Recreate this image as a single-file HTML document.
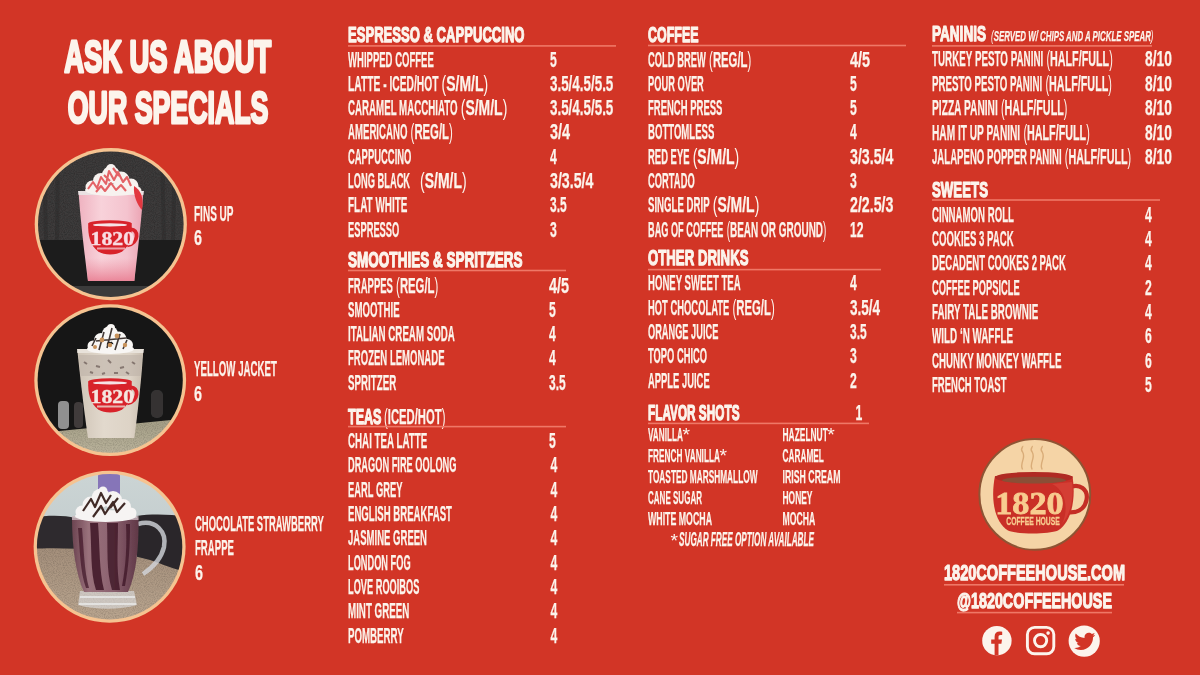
<!DOCTYPE html>
<html><head><meta charset="utf-8"><title>1820 Coffee House Menu</title>
<style>
html,body{margin:0;padding:0;background:#D23526;}
body{width:1200px;height:675px;overflow:hidden;}
svg{display:block}
text{font-family:"Liberation Sans", "DejaVu Sans", sans-serif;fill:#FCF4EC;stroke:#FCF4EC;stroke-width:0.25px;}
text.h{stroke:#FCF4EC;stroke-width:1.25px;stroke-linejoin:round}
text.t{stroke:#FCF4EC;stroke-width:3px;stroke-linejoin:round}
</style></head>
<body>
<svg width="1200" height="675" viewBox="0 0 1200 675">
<rect width="1200" height="675" fill="#D23526"/>
<defs>
  <filter id="soft" x="-5%" y="-5%" width="110%" height="110%"><feGaussianBlur stdDeviation="0.7"/></filter>
  <clipPath id="c1"><circle cx="110.8" cy="224.2" r="72.8"/></clipPath>
  <clipPath id="c2"><circle cx="110.2" cy="380.2" r="72.6"/></clipPath>
  <clipPath id="c3"><circle cx="109.6" cy="546.8" r="72.7"/></clipPath>
  <filter id="grain" x="0" y="0" width="100%" height="100%">
    <feTurbulence type="fractalNoise" baseFrequency="0.9" numOctaves="2" seed="3" result="n"/>
    <feColorMatrix in="n" type="matrix" values="0 0 0 0 0  0 0 0 0 0  0 0 0 0 0  0 0 0 0.9 -0.35"/>
    <feComposite in2="SourceGraphic" operator="in"/>
  </filter>
  <linearGradient id="cup1" x1="0" y1="0" x2="1" y2="0">
    <stop offset="0" stop-color="#EFB2C0"/><stop offset="0.35" stop-color="#F8D2DA"/><stop offset="0.75" stop-color="#F4C3CE"/><stop offset="1" stop-color="#EBA2B2"/>
  </linearGradient>
  <linearGradient id="cup2" x1="0" y1="0" x2="1" y2="0">
    <stop offset="0" stop-color="#CFC4B6"/><stop offset="0.4" stop-color="#E2D9CD"/><stop offset="0.8" stop-color="#DDD3C6"/><stop offset="1" stop-color="#C9BDAF"/>
  </linearGradient>
  <linearGradient id="mug" x1="0" y1="0" x2="1" y2="0">
    <stop offset="0" stop-color="#6C4451"/><stop offset="0.25" stop-color="#9A727C"/><stop offset="0.6" stop-color="#8C6270"/><stop offset="1" stop-color="#603847"/>
  </linearGradient>
  <linearGradient id="wall" x1="0" y1="0" x2="0" y2="1">
    <stop offset="0" stop-color="#CCD5D5"/><stop offset="1" stop-color="#B9C3C5"/>
  </linearGradient>
  <linearGradient id="gran" x1="0" y1="0" x2="0" y2="1">
    <stop offset="0" stop-color="#A48F7B"/><stop offset="1" stop-color="#BBA791"/>
  </linearGradient>
  <linearGradient id="gran2" x1="0" y1="0" x2="0" y2="1">
    <stop offset="0" stop-color="#A39D85"/><stop offset="1" stop-color="#BDB69F"/>
  </linearGradient>
  <radialGradient id="cream" cx="0.45" cy="0.45" r="0.6">
    <stop offset="0" stop-color="#FFFFFF"/><stop offset="1" stop-color="#ECE6E2"/>
  </radialGradient>
  
</defs>
<!-- photo 1 : Fins Up -->
<circle cx="110.8" cy="224.2" r="76.1" fill="#F5C391"/>
<g clip-path="url(#c1)"><g filter="url(#soft)">
  <rect x="30" y="145" width="160" height="96" fill="#3C3A3A"/>
  <rect x="30" y="145" width="160" height="96" fill="#000" filter="url(#grain)" opacity="0.5"/>
  <path d="M44 150 L46 240 M58 150 L57 240 M162 150 L164 240 M175 150 L173 240" stroke="#2C2B2B" stroke-width="4" opacity="0.55"/>
  <rect x="30" y="240" width="160" height="47" fill="#1F1E1E"/>
  <rect x="30" y="286" width="160" height="20" fill="#3B3A3A"/>
  <path d="M78.6 193 L143.3 193 C141 225 137 258 134.3 281 L88 281 C85 258 81 225 78.6 193 Z" fill="url(#cup1)"/>
  <linearGradient id="pinkbot" x1="0" y1="0" x2="0" y2="1"><stop offset="0" stop-color="#EC8E9F" stop-opacity="0"/><stop offset="1" stop-color="#E97F93" stop-opacity="0.9"/></linearGradient>
  <path d="M85.8 258 L136.4 258 L134.3 281 L88 281 Z" fill="url(#pinkbot)"/>
  <path d="M78 191 L144 191 L143.3 195 L78.6 195 Z" fill="#E9E1E2"/>
  <g fill="#F7F2EF">
    <ellipse cx="112.5" cy="190" rx="27.5" ry="6"/>
    <circle cx="92" cy="187" r="6.5"/><circle cx="101" cy="181" r="8"/><circle cx="111" cy="175" r="9"/><circle cx="111" cy="169" r="5"/><circle cx="121" cy="180" r="8.5"/><circle cx="131" cy="186" r="7.5"/><circle cx="137" cy="191" r="4.5"/>
  </g>
  <path d="M88 189 L93 182 L97 188 L101 177 L106 184 L109 171 L114 180 L118 172 L123 182 L127 177 L131 186 M96 192 L101 186 L105 191 L111 183 L116 190 L121 185 L126 191 M104 175 L110 181 M113 168 L119 176" stroke="#E04A4E" stroke-width="2.1" fill="none" opacity="0.85" stroke-linejoin="round"/>
  <path d="M134 186 C141 190 144 198 142 210 C138 206 133 196 134 186 Z" fill="#E23840"/>
  <g transform="translate(111.2,237.5)">
    <path d="M-23 -14 C-23.5 -2 -21 8 -13 14 C-7 18 5 18 11 14 C19 8 21 -2 20.5 -14 Z" fill="#D8242C"/>
    <path d="M19 -8 C28 -9 28 6 16 8" stroke="#D8242C" stroke-width="3.8" fill="none"/>
    <ellipse cx="-1.2" cy="-14" rx="21.8" ry="3.3" fill="#D8242C"/>
    <ellipse cx="-1.2" cy="-12.6" rx="17" ry="1.7" fill="#F6E3E6"/>
  </g>
  <text x="90.5" y="245.3" textLength="43.5" lengthAdjust="spacingAndGlyphs" style="font-family:'Liberation Serif',serif;font-weight:700;font-size:19px;fill:#F9DDE3;stroke:#F9DDE3;stroke-width:0.4px">1820</text>
  <rect x="97" y="247.5" width="28" height="2" fill="#F3C0C8" opacity="0.8"/>
</g></g>
<!-- photo 2 : Yellow Jacket -->
<circle cx="110.2" cy="380.2" r="75.9" fill="#F5C391"/>
<g clip-path="url(#c2)"><g filter="url(#soft)">
  <rect x="30" y="300" width="160" height="160" fill="#141414"/>
  <rect x="58" y="401" width="11" height="28" rx="4" fill="#C4C4C4" opacity="0.7"/>
  <rect x="74" y="402" width="9" height="26" rx="4" fill="#5E5555" opacity="0.6"/>
  <rect x="151" y="390" width="12" height="28" rx="5" fill="#4A4747" opacity="0.6"/>
  <path d="M30 434 L190 418 L190 460 L30 460 Z" fill="url(#gran2)"/>
  <path d="M30 434 L190 418 L190 460 L30 460 Z" fill="#000" filter="url(#grain)" opacity="0.35"/>
  <path d="M77.4 351 L143.3 351 C141 385 137 418 134.3 438 L88 438 C85 418 81 385 77.4 351 Z" fill="url(#cup2)"/>
  <path d="M78.5 355 L142.2 355 L140.6 376 L80.5 376 Z" fill="#BEB2A8" opacity="0.6"/>
  <path d="M84 362 l3 2 M96 366 l4 1 M108 360 l3 3 M120 368 l4 -1 M132 362 l3 2 M90 372 l3 1 M114 373 l4 0 M126 372 l3 2 M102 374 l3 -1" stroke="#6A5A55" stroke-width="2" opacity="0.7"/>
  <path d="M77 349 L144 349 L143.3 353 L77.4 353 Z" fill="#E8E2DA"/>
  <g fill="#F8F6F4">
    <ellipse cx="110.5" cy="349" rx="23.5" ry="5"/>
    <circle cx="93" cy="346" r="5.5"/><circle cx="101" cy="340" r="7"/><circle cx="110" cy="334" r="8"/><circle cx="111" cy="328" r="4"/><circle cx="119" cy="339" r="7.5"/><circle cx="127" cy="345" r="6"/>
  </g>
  <path d="M92 346 L96 338 M99 350 L104 332 M107 348 L112 328 M115 350 L120 334 M123 349 L127 340 M96 341 L126 338" stroke="#2E2420" stroke-width="1.6" opacity="0.9" fill="none"/>
  <circle cx="102" cy="340" r="2.4" fill="#C8925A"/><circle cx="117" cy="336" r="2.4" fill="#C8925A"/><circle cx="110" cy="345" r="2.2" fill="#C8925A"/><circle cx="125" cy="345" r="2.2" fill="#C8925A"/><circle cx="95" cy="347" r="2" fill="#C8925A"/>
  <g transform="translate(111.2,395.5)">
    <path d="M-23 -14 C-23.5 -2 -21 8 -13 14 C-7 18 5 18 11 14 C19 8 21 -2 20.5 -14 Z" fill="#D8242C"/>
    <path d="M19 -8 C28 -9 28 6 16 8" stroke="#D8242C" stroke-width="3.8" fill="none"/>
    <ellipse cx="-1.2" cy="-14" rx="21.8" ry="3.3" fill="#D8242C"/>
    <ellipse cx="-1.2" cy="-12.6" rx="17" ry="1.7" fill="#F6E3E6"/>
  </g>
  <text x="90.5" y="403.3" textLength="43.5" lengthAdjust="spacingAndGlyphs" style="font-family:'Liberation Serif',serif;font-weight:700;font-size:19px;fill:#F5E6E0;stroke:#F5E6E0;stroke-width:0.4px">1820</text>
  <rect x="97" y="405.5" width="28" height="2" fill="#EBD8D0" opacity="0.8"/>
</g></g>
<!-- photo 3 : Chocolate Strawberry Frappe -->
<circle cx="109.6" cy="546.8" r="76.0" fill="#F5C391"/>
<g clip-path="url(#c3)"><g filter="url(#soft)">
  <rect x="30" y="468" width="160" height="160" fill="url(#wall)"/>
  <rect x="98" y="474" width="22" height="23" rx="2" fill="#8675B8"/>
  <path d="M30 518 C45 515 65 515 75 518 L75 551 L30 552 Z" fill="#2D2B2D"/>
  <path d="M137 516 C150 514 170 514 186 517 L186 576 L137 570 Z" fill="#2A282A"/>
  <path d="M30 549 C60 547 110 549 150 560 C165 565 175 570 188 572 L188 628 L30 628 Z" fill="url(#gran)"/>
  <path d="M30 549 C60 547 110 549 150 560 C165 565 175 570 188 572 L188 628 L30 628 Z" fill="#000" filter="url(#grain)" opacity="0.35"/>
  <path d="M138 524 C156 519 167 532 164 547 C161 560 152 568 143 574" stroke="#D3D6DC" stroke-width="4.5" fill="none" opacity="0.8"/>
  <path d="M80 591 L134 591 L137 605 C120 610 95 610 78 605 Z" fill="#E4E7EC" opacity="0.55"/>
  <path d="M80 597 L135 597 M79 604 L136 604" stroke="#F4F6F8" stroke-width="1.4" opacity="0.8"/>
  <path d="M72 518 L138.5 518 C139 548 136 575 128 592 L84 592 C76 575 72 548 72 518 Z" fill="url(#mug)"/>
  <path d="M90 523 C92 548 90 572 96 590 L104 590 C99 570 100 548 98 523 Z" fill="#3E1626" opacity="0.85"/>
  <path d="M107 523 C108 550 106 570 112 590 L120 590 C116 568 118 548 118 523 Z" fill="#3E1626" opacity="0.8"/>
  <path d="M78 528 C80 550 80 572 86 588 L89 588 C84 570 84 550 82 528 Z" fill="#3E1626" opacity="0.7"/>
  <path d="M126 524 C127 545 126 565 122 586 L125 586 C129 565 130 545 130 524 Z" fill="#3E1626" opacity="0.75"/>
  <path d="M72 516 L138.5 516 L138.5 520 L72 520 Z" fill="#C9B8BE" opacity="0.8"/>
  <g fill="#F6F4F3">
    <ellipse cx="105.5" cy="516" rx="30.5" ry="6"/>
    <circle cx="82" cy="512" r="6.5"/><circle cx="91" cy="505" r="8.5"/><circle cx="101" cy="498" r="9.5"/><circle cx="103" cy="491" r="4.5"/><circle cx="113" cy="500" r="9"/><circle cx="123" cy="507" r="8"/><circle cx="131" cy="513" r="5.5"/>
  </g>
  <path d="M83 511 L91 499 L95 507 L101 493 L106 503 L111 495 M93 517 L101 506 L105 514 L113 502 L117 512 L125 503 M110 508 L118 498" stroke="#2E1612" stroke-width="2.2" fill="none" opacity="0.9" stroke-linejoin="round"/>
</g></g>

<g>
  <circle cx="1034.8" cy="494.4" r="55.4" fill="#F5D4A6" stroke="#8E5434" stroke-width="2"/>
  <path d="M1022.6 469.5 C1019 463 1026.5 458.5 1022.6 452 C1019.6 448.5 1023.5 447 1022.6 446" stroke="#D9AC78" stroke-width="1.4" fill="none"/>
  <path d="M1032.2 469.5 C1028.6 463 1036.1 458.5 1032.2 452 C1029.2 448.5 1033.1 447 1032.2 446" stroke="#D9AC78" stroke-width="1.4" fill="none"/>
  <path d="M1042.2 469.5 C1038.6 463 1046.1 458.5 1042.2 452 C1039.2 448.5 1043.1 447 1042.2 446" stroke="#D9AC78" stroke-width="1.4" fill="none"/>
  <path d="M1068 488 C1080 482 1088.5 490 1086.5 500 C1084.5 510 1076 513.5 1066 512" stroke="#C42D25" stroke-width="4.2" fill="none"/>
  <path d="M995 476 C990.5 498 994 522 1008 530.5 C1018 534.5 1048 534.5 1058 530.5 C1072 522 1076 498 1072.5 476 Z" fill="#C92F27"/>
  <path d="M1052 484 C1066 490 1069 510 1062 524 C1071 514 1074 496 1072 482 Z" fill="#D8443A" opacity="0.7"/>
  <ellipse cx="1033.8" cy="477.5" rx="38.8" ry="5.6" fill="#B02A23"/>
  <ellipse cx="1034" cy="480.2" rx="32" ry="3.4" fill="#8A4E36"/>
  <text x="995.2" y="514" textLength="68.5" lengthAdjust="spacingAndGlyphs" style="font-family:'Liberation Serif',serif;font-weight:700;font-size:32.5px;fill:#F8CC90;stroke:#F8CC90;stroke-width:0.8px">1820</text>
  <text x="1006.3" y="525.3" textLength="53.5" lengthAdjust="spacingAndGlyphs" style="font-family:'Liberation Sans',sans-serif;font-weight:700;font-size:11.8px;fill:#F8CC90;stroke:#F8CC90;stroke-width:0.3px">COFFEE HOUSE</text>
</g>

<g>
  <circle cx="996.9" cy="640.7" r="14.7" fill="#FCF4EC"/>
  <path d="M994.6 655.4 L994.6 643.8 L991.2 643.8 L991.2 639.6 L994.6 639.6 L994.6 636.6 C994.6 633.2 996.6 631.6 999.6 631.6 C1000.9 631.6 1002.2 631.8 1002.2 631.8 L1002.2 635.1 L1000.6 635.1 C999 635.1 998.5 636 998.5 637 L998.5 639.6 L1002 639.6 L1001.4 643.8 L998.5 643.8 L998.5 655.4 Z" fill="#D23526"/>
  <rect x="1027.4" y="627.4" width="26.4" height="26.4" rx="7.2" fill="none" stroke="#FCF4EC" stroke-width="2.9"/>
  <circle cx="1040.6" cy="640.6" r="6.1" fill="none" stroke="#FCF4EC" stroke-width="2.9"/>
  <circle cx="1048.1" cy="633.1" r="1.8" fill="#FCF4EC"/>
  <circle cx="1084.2" cy="641.1" r="15.6" fill="#FCF4EC"/>
  <g transform="translate(0.2,1.2)">
  <path d="M1095 633.5 C1094.2 633.9 1093.4 634.1 1092.5 634.2 C1093.4 633.7 1094.1 632.8 1094.4 631.8 C1093.6 632.3 1092.6 632.6 1091.7 632.8 C1090.9 632 1089.8 631.5 1088.6 631.5 C1086.2 631.5 1084.3 633.4 1084.3 635.8 C1084.3 636.1 1084.3 636.5 1084.4 636.8 C1080.8 636.6 1077.7 634.9 1075.6 632.3 C1075.2 632.9 1075 633.7 1075 634.5 C1075 636 1075.8 637.3 1076.9 638.1 C1076.2 638.1 1075.6 637.9 1075 637.6 C1075 639.7 1076.5 641.4 1078.5 641.8 C1077.9 642 1077.2 642 1076.6 641.9 C1077.1 643.6 1078.7 644.9 1080.6 644.9 C1078.7 646.3 1076.4 647 1074 646.8 C1075.9 648.1 1078.2 648.8 1080.6 648.8 C1088.5 648.8 1092.8 642.3 1092.8 636.6 L1092.8 636.1 C1093.7 635.4 1094.4 634.5 1095 633.5 Z" fill="#D23526"/>
  </g>
</g>

<text x="348.0" y="42.3" textLength="176.5" lengthAdjust="spacingAndGlyphs" style="font-size:21.80px;font-weight:700" class="h">ESPRESSO &amp; CAPPUCCINO</text>
<rect x="348" y="45.10" width="268" height="1.6" fill="#EF7867"/>
<text x="348.0" y="66.5" textLength="85.8" lengthAdjust="spacingAndGlyphs" style="font-size:21.80px;font-weight:700">WHIPPED COFFEE</text>
<text x="550.0" y="66.5" textLength="6.8" lengthAdjust="spacingAndGlyphs" style="font-size:21.80px;font-weight:700">5</text>
<text x="348.0" y="90.8" textLength="90.4" lengthAdjust="spacingAndGlyphs" style="font-size:21.80px;font-weight:700">LATTE - ICED/HOT</text>
<text x="441.6" y="90.8" textLength="46.5" lengthAdjust="spacingAndGlyphs" style="font-size:21.80px;font-weight:700"><tspan style="font-weight:400;stroke:none">(</tspan>S/M/L<tspan style="font-weight:400;stroke:none">)</tspan></text>
<text x="550.0" y="90.8" textLength="63.3" lengthAdjust="spacingAndGlyphs" style="font-size:21.80px;font-weight:700">3.5/4.5/5.5</text>
<text x="348.0" y="115.1" textLength="109.6" lengthAdjust="spacingAndGlyphs" style="font-size:21.80px;font-weight:700">CARAMEL MACCHIATO</text>
<text x="460.8" y="115.1" textLength="46.5" lengthAdjust="spacingAndGlyphs" style="font-size:21.80px;font-weight:700"><tspan style="font-weight:400;stroke:none">(</tspan>S/M/L<tspan style="font-weight:400;stroke:none">)</tspan></text>
<text x="550.0" y="115.1" textLength="63.3" lengthAdjust="spacingAndGlyphs" style="font-size:21.80px;font-weight:700">3.5/4.5/5.5</text>
<text x="348.0" y="139.4" textLength="59.4" lengthAdjust="spacingAndGlyphs" style="font-size:21.80px;font-weight:700">AMERICANO</text>
<text x="410.6" y="139.4" textLength="42.2" lengthAdjust="spacingAndGlyphs" style="font-size:21.80px;font-weight:700"><tspan style="font-weight:400;stroke:none">(</tspan>REG/L<tspan style="font-weight:400;stroke:none">)</tspan></text>
<text x="550.0" y="139.4" textLength="20.1" lengthAdjust="spacingAndGlyphs" style="font-size:21.80px;font-weight:700">3/4</text>
<text x="348.0" y="163.7" textLength="63.4" lengthAdjust="spacingAndGlyphs" style="font-size:21.80px;font-weight:700">CAPPUCCINO</text>
<text x="550.0" y="163.7" textLength="6.8" lengthAdjust="spacingAndGlyphs" style="font-size:21.80px;font-weight:700">4</text>
<text x="348.0" y="188.0" textLength="62.1" lengthAdjust="spacingAndGlyphs" style="font-size:21.80px;font-weight:700">LONG BLACK</text>
<text x="420.1" y="188.0" textLength="46.5" lengthAdjust="spacingAndGlyphs" style="font-size:21.80px;font-weight:700"><tspan style="font-weight:400;stroke:none">(</tspan>S/M/L<tspan style="font-weight:400;stroke:none">)</tspan></text>
<text x="550.0" y="188.0" textLength="43.4" lengthAdjust="spacingAndGlyphs" style="font-size:21.80px;font-weight:700">3/3.5/4</text>
<text x="348.0" y="212.3" textLength="59.4" lengthAdjust="spacingAndGlyphs" style="font-size:21.80px;font-weight:700">FLAT WHITE</text>
<text x="550.0" y="212.3" textLength="16.7" lengthAdjust="spacingAndGlyphs" style="font-size:21.80px;font-weight:700">3.5</text>
<text x="348.0" y="236.6" textLength="51.3" lengthAdjust="spacingAndGlyphs" style="font-size:21.80px;font-weight:700">ESPRESSO</text>
<text x="550.0" y="236.6" textLength="6.8" lengthAdjust="spacingAndGlyphs" style="font-size:21.80px;font-weight:700">3</text>
<text x="348.0" y="267.0" textLength="174.5" lengthAdjust="spacingAndGlyphs" style="font-size:21.80px;font-weight:700" class="h">SMOOTHIES &amp; SPRITZERS</text>
<rect x="348" y="269.70" width="218" height="1.6" fill="#EF7867"/>
<text x="348.0" y="292.5" textLength="44.9" lengthAdjust="spacingAndGlyphs" style="font-size:21.80px;font-weight:700">FRAPPES</text>
<text x="396.1" y="292.5" textLength="42.2" lengthAdjust="spacingAndGlyphs" style="font-size:21.80px;font-weight:700"><tspan style="font-weight:400;stroke:none">(</tspan>REG/L<tspan style="font-weight:400;stroke:none">)</tspan></text>
<text x="549.0" y="292.5" textLength="20.1" lengthAdjust="spacingAndGlyphs" style="font-size:21.80px;font-weight:700">4/5</text>
<text x="348.0" y="316.8" textLength="51.6" lengthAdjust="spacingAndGlyphs" style="font-size:21.80px;font-weight:700">SMOOTHIE</text>
<text x="549.0" y="316.8" textLength="6.8" lengthAdjust="spacingAndGlyphs" style="font-size:21.80px;font-weight:700">5</text>
<text x="348.0" y="341.1" textLength="106.8" lengthAdjust="spacingAndGlyphs" style="font-size:21.80px;font-weight:700">ITALIAN CREAM SODA</text>
<text x="549.0" y="341.1" textLength="6.8" lengthAdjust="spacingAndGlyphs" style="font-size:21.80px;font-weight:700">4</text>
<text x="348.0" y="365.4" textLength="96.5" lengthAdjust="spacingAndGlyphs" style="font-size:21.80px;font-weight:700">FROZEN LEMONADE</text>
<text x="549.0" y="365.4" textLength="6.8" lengthAdjust="spacingAndGlyphs" style="font-size:21.80px;font-weight:700">4</text>
<text x="348.0" y="389.7" textLength="48.2" lengthAdjust="spacingAndGlyphs" style="font-size:21.80px;font-weight:700">SPRITZER</text>
<text x="549.0" y="389.7" textLength="16.7" lengthAdjust="spacingAndGlyphs" style="font-size:21.80px;font-weight:700">3.5</text>
<text x="348.0" y="423.9" textLength="33.5" lengthAdjust="spacingAndGlyphs" style="font-size:21.80px;font-weight:700" class="h">TEAS</text>
<text x="384.0" y="423.9" textLength="61.4" lengthAdjust="spacingAndGlyphs" style="font-size:21.80px;font-weight:700"><tspan style="font-weight:400;stroke:none">(</tspan>ICED/HOT<tspan style="font-weight:400;stroke:none">)</tspan></text>
<rect x="348" y="425.80" width="218" height="1.6" fill="#EF7867"/>
<text x="348.0" y="447.9" textLength="79.2" lengthAdjust="spacingAndGlyphs" style="font-size:21.80px;font-weight:700">CHAI TEA LATTE</text>
<text x="549.0" y="447.9" textLength="6.8" lengthAdjust="spacingAndGlyphs" style="font-size:21.80px;font-weight:700">5</text>
<text x="348.0" y="472.2" textLength="108.5" lengthAdjust="spacingAndGlyphs" style="font-size:21.80px;font-weight:700">DRAGON FIRE OOLONG</text>
<text x="550.5" y="472.2" textLength="6.8" lengthAdjust="spacingAndGlyphs" style="font-size:21.80px;font-weight:700">4</text>
<text x="348.0" y="496.6" textLength="54.5" lengthAdjust="spacingAndGlyphs" style="font-size:21.80px;font-weight:700">EARL GREY</text>
<text x="550.5" y="496.6" textLength="6.8" lengthAdjust="spacingAndGlyphs" style="font-size:21.80px;font-weight:700">4</text>
<text x="348.0" y="520.9" textLength="103.9" lengthAdjust="spacingAndGlyphs" style="font-size:21.80px;font-weight:700">ENGLISH BREAKFAST</text>
<text x="550.5" y="520.9" textLength="6.8" lengthAdjust="spacingAndGlyphs" style="font-size:21.80px;font-weight:700">4</text>
<text x="348.0" y="545.2" textLength="79.0" lengthAdjust="spacingAndGlyphs" style="font-size:21.80px;font-weight:700">JASMINE GREEN</text>
<text x="550.5" y="545.2" textLength="6.8" lengthAdjust="spacingAndGlyphs" style="font-size:21.80px;font-weight:700">4</text>
<text x="348.0" y="569.5" textLength="62.6" lengthAdjust="spacingAndGlyphs" style="font-size:21.80px;font-weight:700">LONDON FOG</text>
<text x="550.5" y="569.5" textLength="6.8" lengthAdjust="spacingAndGlyphs" style="font-size:21.80px;font-weight:700">4</text>
<text x="348.0" y="593.9" textLength="71.4" lengthAdjust="spacingAndGlyphs" style="font-size:21.80px;font-weight:700">LOVE ROOIBOS</text>
<text x="550.5" y="593.9" textLength="6.8" lengthAdjust="spacingAndGlyphs" style="font-size:21.80px;font-weight:700">4</text>
<text x="348.0" y="618.2" textLength="61.4" lengthAdjust="spacingAndGlyphs" style="font-size:21.80px;font-weight:700">MINT GREEN</text>
<text x="550.5" y="618.2" textLength="6.8" lengthAdjust="spacingAndGlyphs" style="font-size:21.80px;font-weight:700">4</text>
<text x="348.0" y="642.5" textLength="55.7" lengthAdjust="spacingAndGlyphs" style="font-size:21.80px;font-weight:700">POMBERRY</text>
<text x="550.5" y="642.5" textLength="6.8" lengthAdjust="spacingAndGlyphs" style="font-size:21.80px;font-weight:700">4</text>
<text x="648.0" y="41.5" textLength="50.5" lengthAdjust="spacingAndGlyphs" style="font-size:21.80px;font-weight:700" class="h">COFFEE</text>
<rect x="648" y="44.70" width="258" height="1.6" fill="#EF7867"/>
<text x="648.0" y="66.5" textLength="57.9" lengthAdjust="spacingAndGlyphs" style="font-size:21.80px;font-weight:700">COLD BREW</text>
<text x="709.1" y="66.5" textLength="42.2" lengthAdjust="spacingAndGlyphs" style="font-size:21.80px;font-weight:700"><tspan style="font-weight:400;stroke:none">(</tspan>REG/L<tspan style="font-weight:400;stroke:none">)</tspan></text>
<text x="850.0" y="66.5" textLength="20.1" lengthAdjust="spacingAndGlyphs" style="font-size:21.80px;font-weight:700">4/5</text>
<text x="648.0" y="90.8" textLength="55.8" lengthAdjust="spacingAndGlyphs" style="font-size:21.80px;font-weight:700">POUR OVER</text>
<text x="850.0" y="90.8" textLength="6.8" lengthAdjust="spacingAndGlyphs" style="font-size:21.80px;font-weight:700">5</text>
<text x="648.0" y="115.1" textLength="74.4" lengthAdjust="spacingAndGlyphs" style="font-size:21.80px;font-weight:700">FRENCH PRESS</text>
<text x="850.0" y="115.1" textLength="6.8" lengthAdjust="spacingAndGlyphs" style="font-size:21.80px;font-weight:700">5</text>
<text x="648.0" y="139.4" textLength="66.4" lengthAdjust="spacingAndGlyphs" style="font-size:21.80px;font-weight:700">BOTTOMLESS</text>
<text x="850.0" y="139.4" textLength="6.8" lengthAdjust="spacingAndGlyphs" style="font-size:21.80px;font-weight:700">4</text>
<text x="648.0" y="163.7" textLength="41.5" lengthAdjust="spacingAndGlyphs" style="font-size:21.80px;font-weight:700">RED EYE</text>
<text x="692.7" y="163.7" textLength="46.5" lengthAdjust="spacingAndGlyphs" style="font-size:21.80px;font-weight:700"><tspan style="font-weight:400;stroke:none">(</tspan>S/M/L<tspan style="font-weight:400;stroke:none">)</tspan></text>
<text x="850.0" y="163.7" textLength="43.4" lengthAdjust="spacingAndGlyphs" style="font-size:21.80px;font-weight:700">3/3.5/4</text>
<text x="648.0" y="188.0" textLength="46.7" lengthAdjust="spacingAndGlyphs" style="font-size:21.80px;font-weight:700">CORTADO</text>
<text x="850.0" y="188.0" textLength="6.8" lengthAdjust="spacingAndGlyphs" style="font-size:21.80px;font-weight:700">3</text>
<text x="648.0" y="212.3" textLength="61.6" lengthAdjust="spacingAndGlyphs" style="font-size:21.80px;font-weight:700">SINGLE DRIP</text>
<text x="712.8" y="212.3" textLength="46.5" lengthAdjust="spacingAndGlyphs" style="font-size:21.80px;font-weight:700"><tspan style="font-weight:400;stroke:none">(</tspan>S/M/L<tspan style="font-weight:400;stroke:none">)</tspan></text>
<text x="850.0" y="212.3" textLength="43.4" lengthAdjust="spacingAndGlyphs" style="font-size:21.80px;font-weight:700">2/2.5/3</text>
<text x="648.0" y="236.6" textLength="75.5" lengthAdjust="spacingAndGlyphs" style="font-size:21.80px;font-weight:700">BAG OF COFFEE</text>
<text x="726.7" y="236.6" textLength="99.7" lengthAdjust="spacingAndGlyphs" style="font-size:21.80px;font-weight:700"><tspan style="font-weight:400;stroke:none">(</tspan>BEAN OR GROUND<tspan style="font-weight:400;stroke:none">)</tspan></text>
<text x="850.0" y="236.6" textLength="13.5" lengthAdjust="spacingAndGlyphs" style="font-size:21.80px;font-weight:700">12</text>
<text x="648.0" y="265.4" textLength="100.5" lengthAdjust="spacingAndGlyphs" style="font-size:21.80px;font-weight:700" class="h">OTHER DRINKS</text>
<rect x="648" y="268.80" width="233" height="1.6" fill="#EF7867"/>
<text x="648.0" y="290.3" textLength="92.6" lengthAdjust="spacingAndGlyphs" style="font-size:21.80px;font-weight:700">HONEY SWEET TEA</text>
<text x="850.0" y="290.3" textLength="6.8" lengthAdjust="spacingAndGlyphs" style="font-size:21.80px;font-weight:700">4</text>
<text x="648.0" y="314.6" textLength="81.3" lengthAdjust="spacingAndGlyphs" style="font-size:21.80px;font-weight:700">HOT CHOCOLATE</text>
<text x="732.5" y="314.6" textLength="42.2" lengthAdjust="spacingAndGlyphs" style="font-size:21.80px;font-weight:700"><tspan style="font-weight:400;stroke:none">(</tspan>REG/L<tspan style="font-weight:400;stroke:none">)</tspan></text>
<text x="850.0" y="314.6" textLength="30.1" lengthAdjust="spacingAndGlyphs" style="font-size:21.80px;font-weight:700">3.5/4</text>
<text x="648.0" y="338.9" textLength="70.3" lengthAdjust="spacingAndGlyphs" style="font-size:21.80px;font-weight:700">ORANGE JUICE</text>
<text x="850.0" y="338.9" textLength="16.7" lengthAdjust="spacingAndGlyphs" style="font-size:21.80px;font-weight:700">3.5</text>
<text x="648.0" y="363.2" textLength="59.0" lengthAdjust="spacingAndGlyphs" style="font-size:21.80px;font-weight:700">TOPO CHICO</text>
<text x="850.0" y="363.2" textLength="6.8" lengthAdjust="spacingAndGlyphs" style="font-size:21.80px;font-weight:700">3</text>
<text x="648.0" y="387.5" textLength="61.7" lengthAdjust="spacingAndGlyphs" style="font-size:21.80px;font-weight:700">APPLE JUICE</text>
<text x="850.0" y="387.5" textLength="6.8" lengthAdjust="spacingAndGlyphs" style="font-size:21.80px;font-weight:700">2</text>
<text x="648.0" y="419.9" textLength="91.5" lengthAdjust="spacingAndGlyphs" style="font-size:21.80px;font-weight:700" class="h">FLAVOR SHOTS</text>
<text x="855.6" y="419.9" textLength="6.8" lengthAdjust="spacingAndGlyphs" style="font-size:21.80px;font-weight:700">1</text>
<rect x="648" y="422.60" width="221" height="1.6" fill="#EF7867"/>
<text x="648.0" y="440.5" textLength="35.0" lengthAdjust="spacingAndGlyphs" style="font-size:18.90px;font-weight:700">VANILLA</text>
<text x="682.5" y="441.3" textLength="7.5" lengthAdjust="spacingAndGlyphs" style="font-size:19px;font-weight:400;stroke:none">*</text>
<text x="782.5" y="440.5" textLength="45.3" lengthAdjust="spacingAndGlyphs" style="font-size:18.90px;font-weight:700">HAZELNUT</text>
<text x="827.3" y="441.3" textLength="7.5" lengthAdjust="spacingAndGlyphs" style="font-size:19px;font-weight:400;stroke:none">*</text>
<text x="648.0" y="461.6" textLength="72.0" lengthAdjust="spacingAndGlyphs" style="font-size:18.90px;font-weight:700">FRENCH VANILLA</text>
<text x="719.5" y="462.4" textLength="7.5" lengthAdjust="spacingAndGlyphs" style="font-size:19px;font-weight:400;stroke:none">*</text>
<text x="782.5" y="461.6" textLength="41.4" lengthAdjust="spacingAndGlyphs" style="font-size:18.90px;font-weight:700">CARAMEL</text>
<text x="648.0" y="482.6" textLength="109.5" lengthAdjust="spacingAndGlyphs" style="font-size:18.90px;font-weight:700">TOASTED MARSHMALLOW</text>
<text x="782.5" y="482.6" textLength="58.0" lengthAdjust="spacingAndGlyphs" style="font-size:18.90px;font-weight:700">IRISH CREAM</text>
<text x="648.0" y="503.7" textLength="54.0" lengthAdjust="spacingAndGlyphs" style="font-size:18.90px;font-weight:700">CANE SUGAR</text>
<text x="782.5" y="503.7" textLength="30.0" lengthAdjust="spacingAndGlyphs" style="font-size:18.90px;font-weight:700">HONEY</text>
<text x="648.0" y="524.8" textLength="64.0" lengthAdjust="spacingAndGlyphs" style="font-size:18.90px;font-weight:700">WHITE MOCHA</text>
<text x="782.5" y="524.8" textLength="32.7" lengthAdjust="spacingAndGlyphs" style="font-size:18.90px;font-weight:700">MOCHA</text>
<text x="670.6" y="546.8" textLength="7.5" lengthAdjust="spacingAndGlyphs" style="font-size:19px;font-weight:400;stroke:none">*</text>
<text x="679.0" y="545.9" textLength="135.0" lengthAdjust="spacingAndGlyphs" style="font-size:19.62px;font-weight:700;font-style:italic">SUGAR FREE OPTION AVAILABLE</text>
<text x="932.0" y="41.3" textLength="54.0" lengthAdjust="spacingAndGlyphs" style="font-size:21.80px;font-weight:700" class="h">PANINIS</text>
<text x="991.0" y="41.3" textLength="162.5" lengthAdjust="spacingAndGlyphs" style="font-size:13.81px;font-weight:700;font-style:italic"><tspan style="font-weight:400;stroke:none">(</tspan>SERVED W/ CHIPS AND A PICKLE SPEAR<tspan style="font-weight:400;stroke:none">)</tspan></text>
<rect x="932" y="45.10" width="220" height="1.6" fill="#EF7867"/>
<text x="932.0" y="66.4" textLength="111.2" lengthAdjust="spacingAndGlyphs" style="font-size:21.80px;font-weight:700">TURKEY PESTO PANINI</text>
<text x="1046.4" y="66.4" textLength="66.4" lengthAdjust="spacingAndGlyphs" style="font-size:21.80px;font-weight:700"><tspan style="font-weight:400;stroke:none">(</tspan>HALF/FULL<tspan style="font-weight:400;stroke:none">)</tspan></text>
<text x="1145.0" y="66.4" textLength="26.9" lengthAdjust="spacingAndGlyphs" style="font-size:21.80px;font-weight:700">8/10</text>
<text x="932.0" y="90.8" textLength="110.3" lengthAdjust="spacingAndGlyphs" style="font-size:21.80px;font-weight:700">PRESTO PESTO PANINI</text>
<text x="1045.5" y="90.8" textLength="66.4" lengthAdjust="spacingAndGlyphs" style="font-size:21.80px;font-weight:700"><tspan style="font-weight:400;stroke:none">(</tspan>HALF/FULL<tspan style="font-weight:400;stroke:none">)</tspan></text>
<text x="1145.0" y="90.8" textLength="26.9" lengthAdjust="spacingAndGlyphs" style="font-size:21.80px;font-weight:700">8/10</text>
<text x="932.0" y="115.2" textLength="65.8" lengthAdjust="spacingAndGlyphs" style="font-size:21.80px;font-weight:700">PIZZA PANINI</text>
<text x="1001.0" y="115.2" textLength="66.4" lengthAdjust="spacingAndGlyphs" style="font-size:21.80px;font-weight:700"><tspan style="font-weight:400;stroke:none">(</tspan>HALF/FULL<tspan style="font-weight:400;stroke:none">)</tspan></text>
<text x="1145.0" y="115.2" textLength="26.9" lengthAdjust="spacingAndGlyphs" style="font-size:21.80px;font-weight:700">8/10</text>
<text x="932.0" y="139.6" textLength="88.2" lengthAdjust="spacingAndGlyphs" style="font-size:21.80px;font-weight:700">HAM IT UP PANINI</text>
<text x="1023.4" y="139.6" textLength="66.4" lengthAdjust="spacingAndGlyphs" style="font-size:21.80px;font-weight:700"><tspan style="font-weight:400;stroke:none">(</tspan>HALF/FULL<tspan style="font-weight:400;stroke:none">)</tspan></text>
<text x="1145.0" y="139.6" textLength="26.9" lengthAdjust="spacingAndGlyphs" style="font-size:21.80px;font-weight:700">8/10</text>
<text x="932.0" y="164.0" textLength="129.6" lengthAdjust="spacingAndGlyphs" style="font-size:21.80px;font-weight:700">JALAPENO POPPER PANINI</text>
<text x="1064.8" y="164.0" textLength="66.4" lengthAdjust="spacingAndGlyphs" style="font-size:21.80px;font-weight:700"><tspan style="font-weight:400;stroke:none">(</tspan>HALF/FULL<tspan style="font-weight:400;stroke:none">)</tspan></text>
<text x="1145.0" y="164.0" textLength="26.9" lengthAdjust="spacingAndGlyphs" style="font-size:21.80px;font-weight:700">8/10</text>
<text x="932.0" y="196.6" textLength="56.0" lengthAdjust="spacingAndGlyphs" style="font-size:21.80px;font-weight:700" class="h">SWEETS</text>
<rect x="932" y="199.20" width="228" height="1.6" fill="#EF7867"/>
<text x="932.0" y="221.8" textLength="82.0" lengthAdjust="spacingAndGlyphs" style="font-size:21.80px;font-weight:700">CINNAMON ROLL</text>
<text x="1145.0" y="221.8" textLength="6.8" lengthAdjust="spacingAndGlyphs" style="font-size:21.80px;font-weight:700">4</text>
<text x="932.0" y="246.1" textLength="81.7" lengthAdjust="spacingAndGlyphs" style="font-size:21.80px;font-weight:700">COOKIES 3 PACK</text>
<text x="1145.0" y="246.1" textLength="6.8" lengthAdjust="spacingAndGlyphs" style="font-size:21.80px;font-weight:700">4</text>
<text x="932.0" y="270.4" textLength="133.9" lengthAdjust="spacingAndGlyphs" style="font-size:21.80px;font-weight:700">DECADENT COOKES 2 PACK</text>
<text x="1145.0" y="270.4" textLength="6.8" lengthAdjust="spacingAndGlyphs" style="font-size:21.80px;font-weight:700">4</text>
<text x="932.0" y="294.7" textLength="87.7" lengthAdjust="spacingAndGlyphs" style="font-size:21.80px;font-weight:700">COFFEE POPSICLE</text>
<text x="1145.0" y="294.7" textLength="6.8" lengthAdjust="spacingAndGlyphs" style="font-size:21.80px;font-weight:700">2</text>
<text x="932.0" y="319.0" textLength="106.2" lengthAdjust="spacingAndGlyphs" style="font-size:21.80px;font-weight:700">FAIRY TALE BROWNIE</text>
<text x="1145.0" y="319.0" textLength="6.8" lengthAdjust="spacingAndGlyphs" style="font-size:21.80px;font-weight:700">4</text>
<text x="932.0" y="343.3" textLength="81.0" lengthAdjust="spacingAndGlyphs" style="font-size:21.80px;font-weight:700">WILD ‘N WAFFLE</text>
<text x="1145.0" y="343.3" textLength="6.8" lengthAdjust="spacingAndGlyphs" style="font-size:21.80px;font-weight:700">6</text>
<text x="932.0" y="367.6" textLength="129.5" lengthAdjust="spacingAndGlyphs" style="font-size:21.80px;font-weight:700">CHUNKY MONKEY WAFFLE</text>
<text x="1145.0" y="367.6" textLength="6.8" lengthAdjust="spacingAndGlyphs" style="font-size:21.80px;font-weight:700">6</text>
<text x="932.0" y="391.9" textLength="74.5" lengthAdjust="spacingAndGlyphs" style="font-size:21.80px;font-weight:700">FRENCH TOAST</text>
<text x="1145.0" y="391.9" textLength="6.8" lengthAdjust="spacingAndGlyphs" style="font-size:21.80px;font-weight:700">5</text>
<text x="64.2" y="71.5" textLength="207.0" lengthAdjust="spacingAndGlyphs" style="font-size:44.19px;font-weight:700" class="t">ASK US ABOUT</text>
<text x="67.8" y="123.3" textLength="200.6" lengthAdjust="spacingAndGlyphs" style="font-size:45.06px;font-weight:700" class="t">OUR SPECIALS</text>
<text x="194.0" y="220.7" textLength="39.5" lengthAdjust="spacingAndGlyphs" style="font-size:22.97px;font-weight:700">FINS UP</text>
<text x="194.0" y="245.0" textLength="8.0" lengthAdjust="spacingAndGlyphs" style="font-size:22.97px;font-weight:700">6</text>
<text x="194.0" y="376.1" textLength="83.0" lengthAdjust="spacingAndGlyphs" style="font-size:22.97px;font-weight:700">YELLOW JACKET</text>
<text x="194.0" y="400.9" textLength="8.0" lengthAdjust="spacingAndGlyphs" style="font-size:22.97px;font-weight:700">6</text>
<text x="195.0" y="530.8" textLength="128.8" lengthAdjust="spacingAndGlyphs" style="font-size:22.97px;font-weight:700">CHOCOLATE STRAWBERRY</text>
<text x="195.0" y="555.1" textLength="39.0" lengthAdjust="spacingAndGlyphs" style="font-size:22.97px;font-weight:700">FRAPPE</text>
<text x="195.0" y="579.6" textLength="8.0" lengthAdjust="spacingAndGlyphs" style="font-size:22.97px;font-weight:700">6</text>
<text x="944.0" y="580.3" textLength="181.0" lengthAdjust="spacingAndGlyphs" style="font-size:22.24px;font-weight:700" class="h">1820COFFEEHOUSE.COM</text>
<rect x="944" y="584.00" width="180" height="1.6" fill="#EF7867"/>
<text x="957.0" y="608.3" textLength="155.0" lengthAdjust="spacingAndGlyphs" style="font-size:22.24px;font-weight:700" class="h">@1820COFFEEHOUSE</text>
<rect x="957" y="611.80" width="155" height="1.6" fill="#EF7867"/>
</svg>
</body></html>
